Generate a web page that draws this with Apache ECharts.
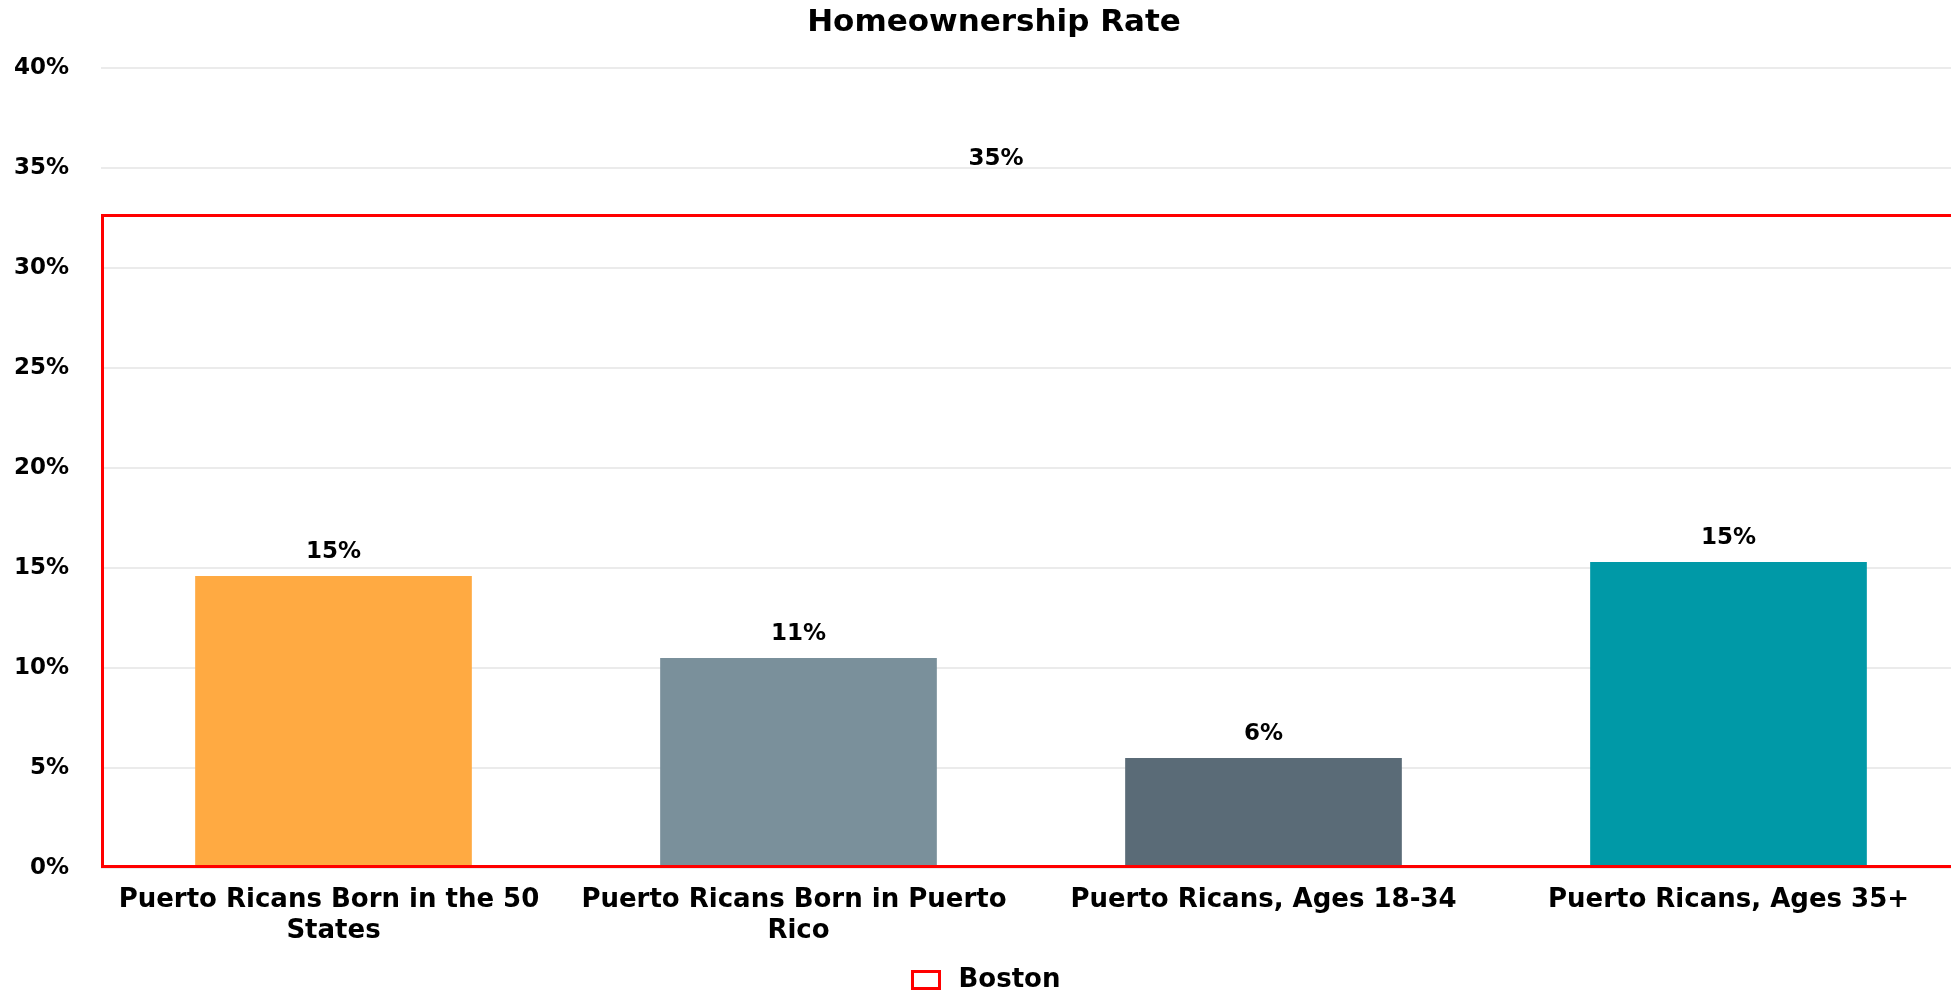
<!DOCTYPE html>
<html>
<head>
<meta charset="utf-8">
<title>Homeownership Rate</title>
<script src="https://cdn.jsdelivr.net/npm/echarts@6/dist/echarts.min.js"></script>
<style>
    html, body { margin: 0; padding: 0; background: #fff; }
    #main { width: 1951px; height: 991px; }
</style>
</head>
<body>
<div id="main"></div>
<script>
var categories = [
    'Puerto Ricans Born in the 50 States',
    'Puerto Ricans Born in Puerto Rico',
    'Puerto Ricans, Ages 18-34',
    'Puerto Ricans, Ages 35+'
];
var rateValues = [14.6, 10.5, 5.5, 15.3];
var barColors = ['#FFAA42', '#7A909B', '#5A6B77', '#0099A7'];
var bostonValues = [32.7];
var bostonLabels = ['35%'];
var yTicks = [0, 40, 5];

var font = '"DejaVu Sans", sans-serif';

var myChart = echarts.init(document.getElementById('main'));

var option = {
    animation: false,
    title: {
        text: 'Homeownership Rate',
        left: 989,
        top: 2,
        textAlign: 'center',
        textStyle: {
            fontFamily: font,
            fontWeight: 'bold',
            fontSize: 31,
            color: '#000'
        }
    },
    legend: {
        data: ['Boston'],
        left: 911,
        top: 967,
        padding: 0,
        icon: 'rect',
        itemWidth: 27,
        itemHeight: 17,
        itemStyle: {
            color: 'transparent',
            borderColor: '#FF0000',
            borderWidth: 3
        },
        textStyle: {
            fontFamily: font,
            fontWeight: 'bold',
            fontSize: 26,
            color: '#000',
            padding: [0, 0, 0, 14]
        }
    },
    grid: {
        left: 101,
        top: 68,
        width: 1860,
        height: 800,
        outerBoundsMode: 'none',
        containLabel: false
    },
    xAxis: [{
        type: 'category',
        data: categories,
        axisLine: { show: false },
        axisTick: { show: false },
        axisLabel: {
            interval: 0,
            margin: 17,
            width: 455,
            overflow: 'break',
            lineHeight: 31,
            fontFamily: font,
            fontWeight: 'bold',
            fontSize: 26,
            color: '#000'
        }
    }, {
        type: 'category',
        data: ['Boston'],
        show: false
    }],
    yAxis: {
        type: 'value',
        min: yTicks[0],
        max: yTicks[1],
        interval: yTicks[2],
        axisLine: { show: false },
        axisTick: { show: false },
        axisLabel: {
            formatter: '{value}%',
            margin: 32,
            fontFamily: font,
            fontWeight: 'bold',
            fontSize: 23,
            color: '#000'
        },
        splitLine: {
            lineStyle: { color: '#E4E4E4', width: 1.5 }
        }
    },
    series: [{
        name: 'Rate',
        type: 'bar',
        xAxisIndex: 0,
        barWidth: '59.5%',
        data: rateValues.map(function (v, i) {
            return { value: v, itemStyle: { color: barColors[i] } };
        }),
        label: {
            show: true,
            position: 'top',
            distance: 12,
            formatter: function (p) { return Math.round(p.value) + '%'; },
            fontFamily: font,
            fontWeight: 'bold',
            fontSize: 23,
            color: '#000'
        }
    }, {
        name: 'Boston',
        type: 'bar',
        xAxisIndex: 1,
        barWidth: '100%',
        data: bostonValues,
        itemStyle: {
            color: 'transparent',
            borderColor: '#FF0000',
            borderWidth: 3
        },
        label: {
            show: true,
            position: 'top',
            distance: 43,
            offset: [-35, 0],
            formatter: function (p) { return bostonLabels[p.dataIndex]; },
            fontFamily: font,
            fontWeight: 'bold',
            fontSize: 23,
            color: '#000'
        }
    }]
};

myChart.setOption(option);
</script>
</body>
</html>
